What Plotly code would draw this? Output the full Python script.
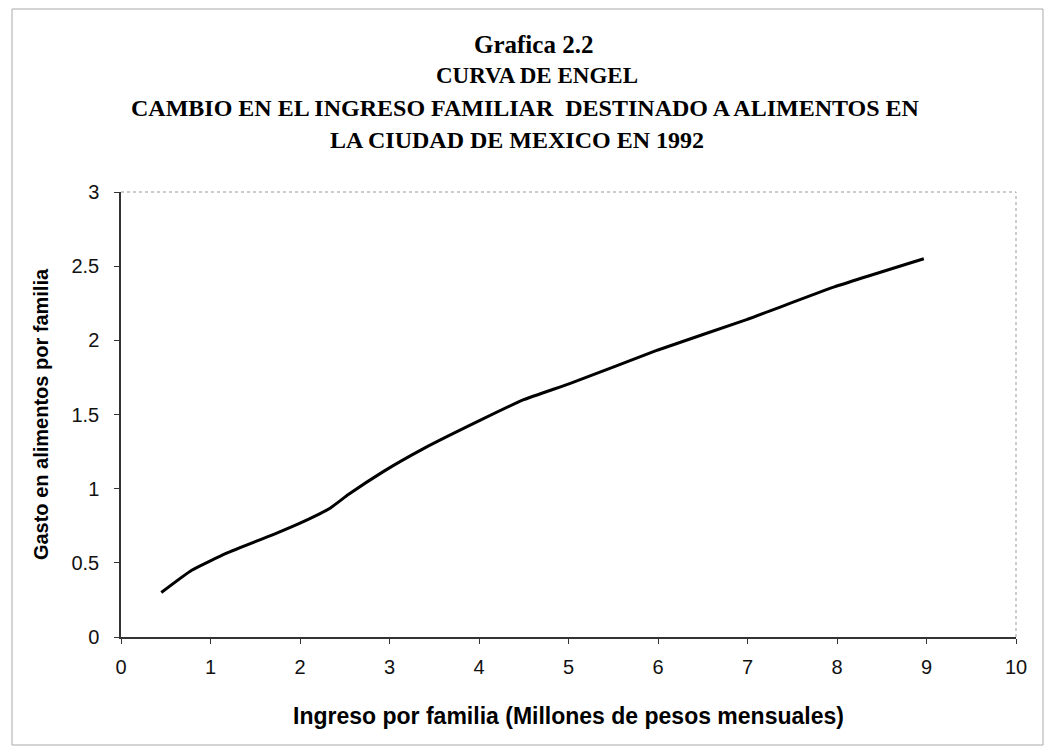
import plotly.graph_objects as go

ingreso = [0.45, 0.79, 1.18, 1.74, 2.0, 2.34, 2.54, 2.93, 3.38, 4.01, 4.5, 5.02, 6.0, 6.99, 7.97, 8.97]
gasto = [0.30, 0.45, 0.565, 0.70, 0.767, 0.87, 0.96, 1.115, 1.27, 1.46, 1.60, 1.71, 1.935, 2.14, 2.36, 2.55]

x_ticks = [0, 1, 2, 3, 4, 5, 6, 7, 8, 9, 10]
y_ticks = [0, 0.5, 1, 1.5, 2, 2.5, 3]
y_tick_labels = ["0", "0.5", "1", "1.5", "2", "2.5", "3"]

title_lines = ["Grafica 2.2", "CURVA DE ENGEL",
               "CAMBIO EN EL INGRESO FAMILIAR  DESTINADO A ALIMENTOS EN",
               "LA CIUDAD DE MEXICO EN 1992"]

fig = go.Figure()
fig.add_trace(go.Scatter(x=ingreso, y=gasto, mode="lines",
                         line=dict(color="black", width=3, shape="spline", smoothing=0.4),
                         showlegend=False))

# page has an 8px body margin; figure sized to fit the window
OFF = 8
W, H = 1036, 738
ml, mr, mt, mb = 113, 28, 184, 109
pw, ph = W - ml - mr, H - mt - mb

def sx(px):  # screen x -> paper
    return (px - OFF - ml) / pw

def sy(py):  # screen y -> paper
    return (H - mb - (py - OFF)) / ph

title_x = [533, 537, 525, 517]
title_y = [45, 76, 108, 140]
title_size = [25, 23, 24, 24]
for t, xx, yy, sz in zip(title_lines, title_x, title_y, title_size):
    fig.add_annotation(text="<b>" + t + "</b>", xref="paper", yref="paper",
                       x=sx(xx), y=sy(yy), showarrow=False,
                       font=dict(family="Liberation Serif", size=sz, color="black"),
                       xanchor="center", yanchor="middle")

fig.update_layout(
    width=W, height=H,
    margin=dict(l=ml, r=mr, t=mt, b=mb),
    paper_bgcolor="white", plot_bgcolor="white",
    font=dict(family="Liberation Sans", color="black"),
    xaxis=dict(range=[0, 10], tickvals=x_ticks, showgrid=False, zeroline=False,
               showline=True, linecolor="#333", linewidth=1.5,
               ticks="outside", ticklen=5, tickcolor="#333", ticklabelstandoff=6,
               tickfont=dict(size=20, family="Liberation Sans", color="#111"),
               title=dict(text="<b>Ingreso por familia (Millones de pesos mensuales)</b>",
                          font=dict(size=23, family="Liberation Sans"), standoff=31)),
    yaxis=dict(range=[0, 3], tickvals=y_ticks, ticktext=y_tick_labels, showgrid=False,
               zeroline=False, showline=True, linecolor="#333", linewidth=1.5,
               ticks="outside", ticklen=5, tickcolor="#333", ticklabelstandoff=11,
               tickfont=dict(size=20, family="Liberation Sans", color="#111"),
               title=dict(text="<b>Gasto en alimentos por familia</b>",
                          font=dict(size=20, family="Liberation Sans"), standoff=17)),
    shapes=[
        dict(type="line", xref="paper", yref="paper", x0=0, x1=1, y0=1, y1=1,
             line=dict(color="#999", width=1, dash="dot")),
        dict(type="line", xref="paper", yref="paper", x0=1, x1=1, y0=0, y1=1,
             line=dict(color="#999", width=1, dash="dot")),
        dict(type="rect", xref="paper", yref="paper",
             x0=sx(12), x1=sx(1043), y0=sy(745), y1=sy(9),
             line=dict(color="#aaa", width=1)),
    ],
)

fig.write_html("out.html")
